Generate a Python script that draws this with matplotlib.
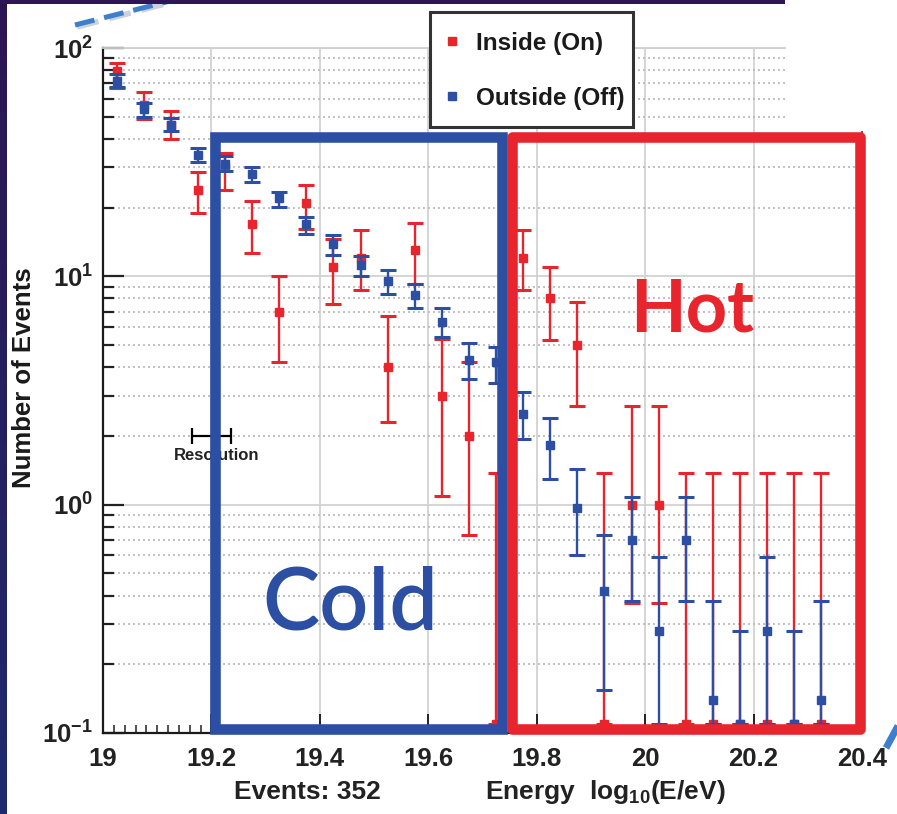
import numpy as np
import matplotlib
matplotlib.use("Agg")
import matplotlib.pyplot as plt
import matplotlib.ticker as mticker
from matplotlib.patches import Rectangle
from matplotlib.lines import Line2D

plt.rcParams['font.family'] = ['Liberation Sans', 'DejaVu Sans']
plt.rcParams['font.weight'] = 'bold'
plt.rcParams['mathtext.fontset'] = 'custom'
plt.rcParams['mathtext.rm'] = 'Liberation Sans:bold'
plt.rcParams['mathtext.bf'] = 'Liberation Sans:bold'
plt.rcParams['mathtext.it'] = 'Liberation Sans:bold'
plt.rcParams['mathtext.default'] = 'bf'

# ---- data: energy bins (log10 E/eV), on-source and off-source histograms ----
energy = [19.025, 19.075, 19.125, 19.175, 19.225, 19.275, 19.325, 19.375, 19.425,
          19.475, 19.525, 19.575, 19.625, 19.675, 19.725, 19.775, 19.825, 19.875,
          19.925, 19.975, 20.025, 20.075, 20.125, 20.175, 20.225, 20.275, 20.325]

inside_counts = [79, 56, 46, 24, 30, 17, 7, 21, 11, 12, 4, 13, 3, 2, 0, 12, 8, 5,
                 0, 1, 1, 0, 0, 0, 0, 0, 0]
inside_low = [67, 49, 40, 19, 24, 12.7, 4.2, 16.1, 7.6, 8.7, 2.3, 9.3, 1.09, 0.74, 0,
              8.7, 5.26, 2.7, 0, 0.37, 0.37, 0, 0, 0, 0, 0, 0]
inside_high = [86, 64, 53, 28.6, 34.7, 21.4, 10.0, 25.1, 14.6, 15.9, 6.7, 17.2, 5.3, 4.2,
               1.38, 15.9, 11.0, 7.7, 1.38, 2.7, 2.7, 1.38, 1.38, 1.38, 1.38, 1.38, 1.38]

outside_scaled = [72, 54, 46, 34, 31, 28, 22, 17, 13.9, 11.2, 9.5, 8.3, 6.3, 4.3, 4.2,
                  2.5, 1.82, 0.97, 0.42, 0.70, 0.28, 0.70, 0.14, 0, 0.28, 0, 0.14]
outside_low = [67.5, 50, 43.3, 31.7, 28.8, 25.9, 20.1, 15.3, 12.4, 10.0, 8.4, 7.3, 5.4,
               3.55, 3.4, 1.94, 1.3, 0.6, 0.155, 0.38, 0, 0.38, 0, 0, 0, 0, 0]
outside_high = [77, 57.5, 49.4, 36.5, 33.6, 30.1, 23.4, 18.2, 15.2, 12.3, 10.7, 9.3, 7.3,
                5.1, 4.9, 3.1, 2.4, 1.44, 0.74, 1.08, 0.59, 1.08, 0.38, 0.28, 0.59, 0.28, 0.38]

total_events = 352
resolution_center = 19.2
resolution_halfwidth = 0.036
resolution_level = 2.0

cold_range = (19.2066, 19.736)
hot_range = (19.7545, 20.396)
region_levels = (0.104, 40.7)

RED = '#e8242c'
BLUE = '#2c4fa3'
FLOOR = 0.11   # empty bins are drawn at the bottom of the plot

W, H = 897, 814
fig = plt.figure(figsize=(W / 100, H / 100), dpi=100)
fig.patch.set_facecolor('white')

ax = fig.add_axes([103 / W, 1 - 733 / H, (862 - 103) / W, (733 - 48) / H])
ax.set_yscale('log')
ax.set_xlim(19.0, 20.4)
ax.set_ylim(0.1, 100)


def draw_series(vals, lows, highs, color, z):
    v = np.maximum(np.array(vals, float), FLOOR)
    lo = np.maximum(np.array(lows, float), FLOOR)
    hi = np.array(highs, float)
    yerr = np.vstack([v - lo, hi - v])
    ax.errorbar(energy, v, yerr=yerr, fmt='s', color=color, ms=5.5, mec=color,
                elinewidth=1.7, capsize=5.5, capthick=2.2, zorder=z, clip_on=False)


draw_series(inside_counts, inside_low, inside_high, RED, 3)
draw_series(outside_scaled, outside_low, outside_high, BLUE, 3.2)

# energy resolution marker
ax.errorbar([resolution_center], [resolution_level], xerr=[resolution_halfwidth],
            fmt='none', ecolor='black', elinewidth=1.6, capsize=6, capthick=1.6, zorder=3)
ax.annotate('Resolution', (resolution_center, resolution_level), xytext=(4, -14),
            textcoords='offset points', ha='center', va='center', fontsize=12,
            fontweight='bold', color='#222222', zorder=3)

# axes styling
ax.xaxis.set_major_locator(mticker.MultipleLocator(0.2))
ax.xaxis.set_minor_locator(mticker.MultipleLocator(0.02))
ax.xaxis.set_major_formatter(mticker.FuncFormatter(lambda x, p: f'{x:g}'))
ax.yaxis.set_major_locator(mticker.LogLocator(base=10))
ax.yaxis.set_minor_locator(mticker.LogLocator(base=10, subs=np.arange(2, 10)))
ax.yaxis.set_major_formatter(mticker.FuncFormatter(lambda y, p: r'$10^{%d}$' % round(np.log10(y))))
ax.yaxis.set_minor_formatter(mticker.NullFormatter())

ax.tick_params(axis='x', which='major', direction='in', length=14, width=1.4,
               labelsize=18.5, pad=10, top=False, colors='#222222')
ax.tick_params(axis='x', which='minor', direction='in', length=6, width=1.2, top=False,
               colors='#333333')
ax.tick_params(axis='y', which='major', direction='in', length=15, width=1.6,
               labelsize=18.5, pad=7, right=False, colors='#222222')
ax.tick_params(axis='y', which='minor', direction='in', length=8, width=1.6, right=False,
               colors='#222222')

ax.grid(which='major', axis='both', color='#d2d2d2', lw=1.3, zorder=0)
ax.grid(which='minor', axis='y', color='#b8b8b8', lw=1.2, ls=(0, (1.2, 1.8)), zorder=0)
ax.set_axisbelow(True)

for side in ('left', 'bottom'):
    ax.spines[side].set_color('#1a1a1a')
    ax.spines[side].set_linewidth(1.6)
ax.spines['top'].set_color('#d0d0d0')
ax.spines['top'].set_linewidth(1.3)
ax.spines['right'].set_color('#555555')
ax.spines['right'].set_linewidth(1.4)

# blank out the top-right corner of the frame
ax.add_patch(Rectangle((786 / W, 1 - 131 / H), (W - 786) / W, 95 / H,
                       transform=fig.transFigure, facecolor='white', edgecolor='none',
                       clip_on=False, zorder=2.8))

# Cold / Hot regions
ax.add_patch(Rectangle((cold_range[0], region_levels[0]), cold_range[1] - cold_range[0],
                       region_levels[1] - region_levels[0], fill=False, edgecolor=BLUE,
                       lw=7.6, joinstyle='miter', clip_on=False, zorder=5))
ax.add_patch(Rectangle((hot_range[0], region_levels[0]), hot_range[1] - hot_range[0],
                       region_levels[1] - region_levels[0], fill=False, edgecolor=RED,
                       lw=7.6, joinstyle='round', clip_on=False, zorder=5))

fig.text(350 / W, 1 - 629 / H, 'Cold', ha='center', va='baseline', fontsize=62,
         family=['Lato', 'DejaVu Sans'], fontweight='semibold', color=BLUE)
fig.text(692 / W, 1 - 332 / H, 'Hot', ha='center', va='baseline', fontsize=52,
         family=['Lato', 'DejaVu Sans'], fontweight='bold', color=RED)

# labels
fig.text(24 / W, 1 - 378 / H, 'Number of Events', rotation=90, ha='center', va='center',
         fontsize=18.5, fontweight='bold', color='#1a1a1a')
fig.text(307 / W, 1 - 792 / H, f'Events: {total_events}', ha='center', va='center',
         fontsize=19, fontweight='bold', color='#222222')
fig.text(605 / W, 1 - 792 / H, r'Energy  log$_{10}$(E/eV)', ha='center', va='center',
         fontsize=19, fontweight='bold', color='#222222')

# legend: entries without their own frame, boxed by a separate rectangle
handles = [Line2D([], [], marker='s', ls='none', color=RED, ms=5.5),
           Line2D([], [], marker='s', ls='none', color=BLUE, ms=5.5)]
leg = fig.legend(handles, ['Inside (On)', 'Outside (Off)'], loc='upper left',
                 bbox_to_anchor=(446 / W, 1 - 32 / H), fontsize=17.5, frameon=False,
                 borderpad=0, labelspacing=1.3, handlelength=0.5, handletextpad=0.72,
                 borderaxespad=0)
leg.set_zorder(6)
for t in leg.get_texts():
    t.set_color('#1a1a1a')
fig.patches.append(Rectangle((430 / W, 1 - 127 / H), 203 / W, 115 / H,
                             transform=fig.transFigure, facecolor='white',
                             edgecolor='#333333', lw=2.2, zorder=5.5))

# slide background strips
grad = np.linspace(0, 1, 256).reshape(-1, 1)
strip = fig.add_axes([0, 0, 6 / W, 1])
strip.imshow(grad, aspect='auto', cmap=matplotlib.colors.LinearSegmentedColormap.from_list(
    'slide', ['#2c1452', '#1e2a6e']), extent=[0, 1, 1, 0])
strip.set_axis_off()
fig.patches.append(Rectangle((0, 1 - 4 / H), 785 / W, 4 / H, transform=fig.transFigure,
                             facecolor='#2d1556', edgecolor='none', zorder=10))

# connector arrows from the slide
fig.add_artist(Line2D([77 / W, 184 / W], [1 - 27 / H, 1 + 1 / H], color='#9aa6b8', lw=4,
                      ls=(0, (4, 2)), alpha=0.5, zorder=9))
fig.add_artist(Line2D([75 / W, 182 / W], [1 - 25 / H, 1 + 2 / H], color='#3d7fcb', lw=3.6,
                      ls=(0, (4, 2)), zorder=10))
fig.add_artist(Line2D([886 / W, 899 / W], [1 - 748 / H, 1 - 724 / H], color='#3d7fcb', lw=5,
                      solid_capstyle='butt', zorder=10))

fig.savefig('out.png', dpi=100)
